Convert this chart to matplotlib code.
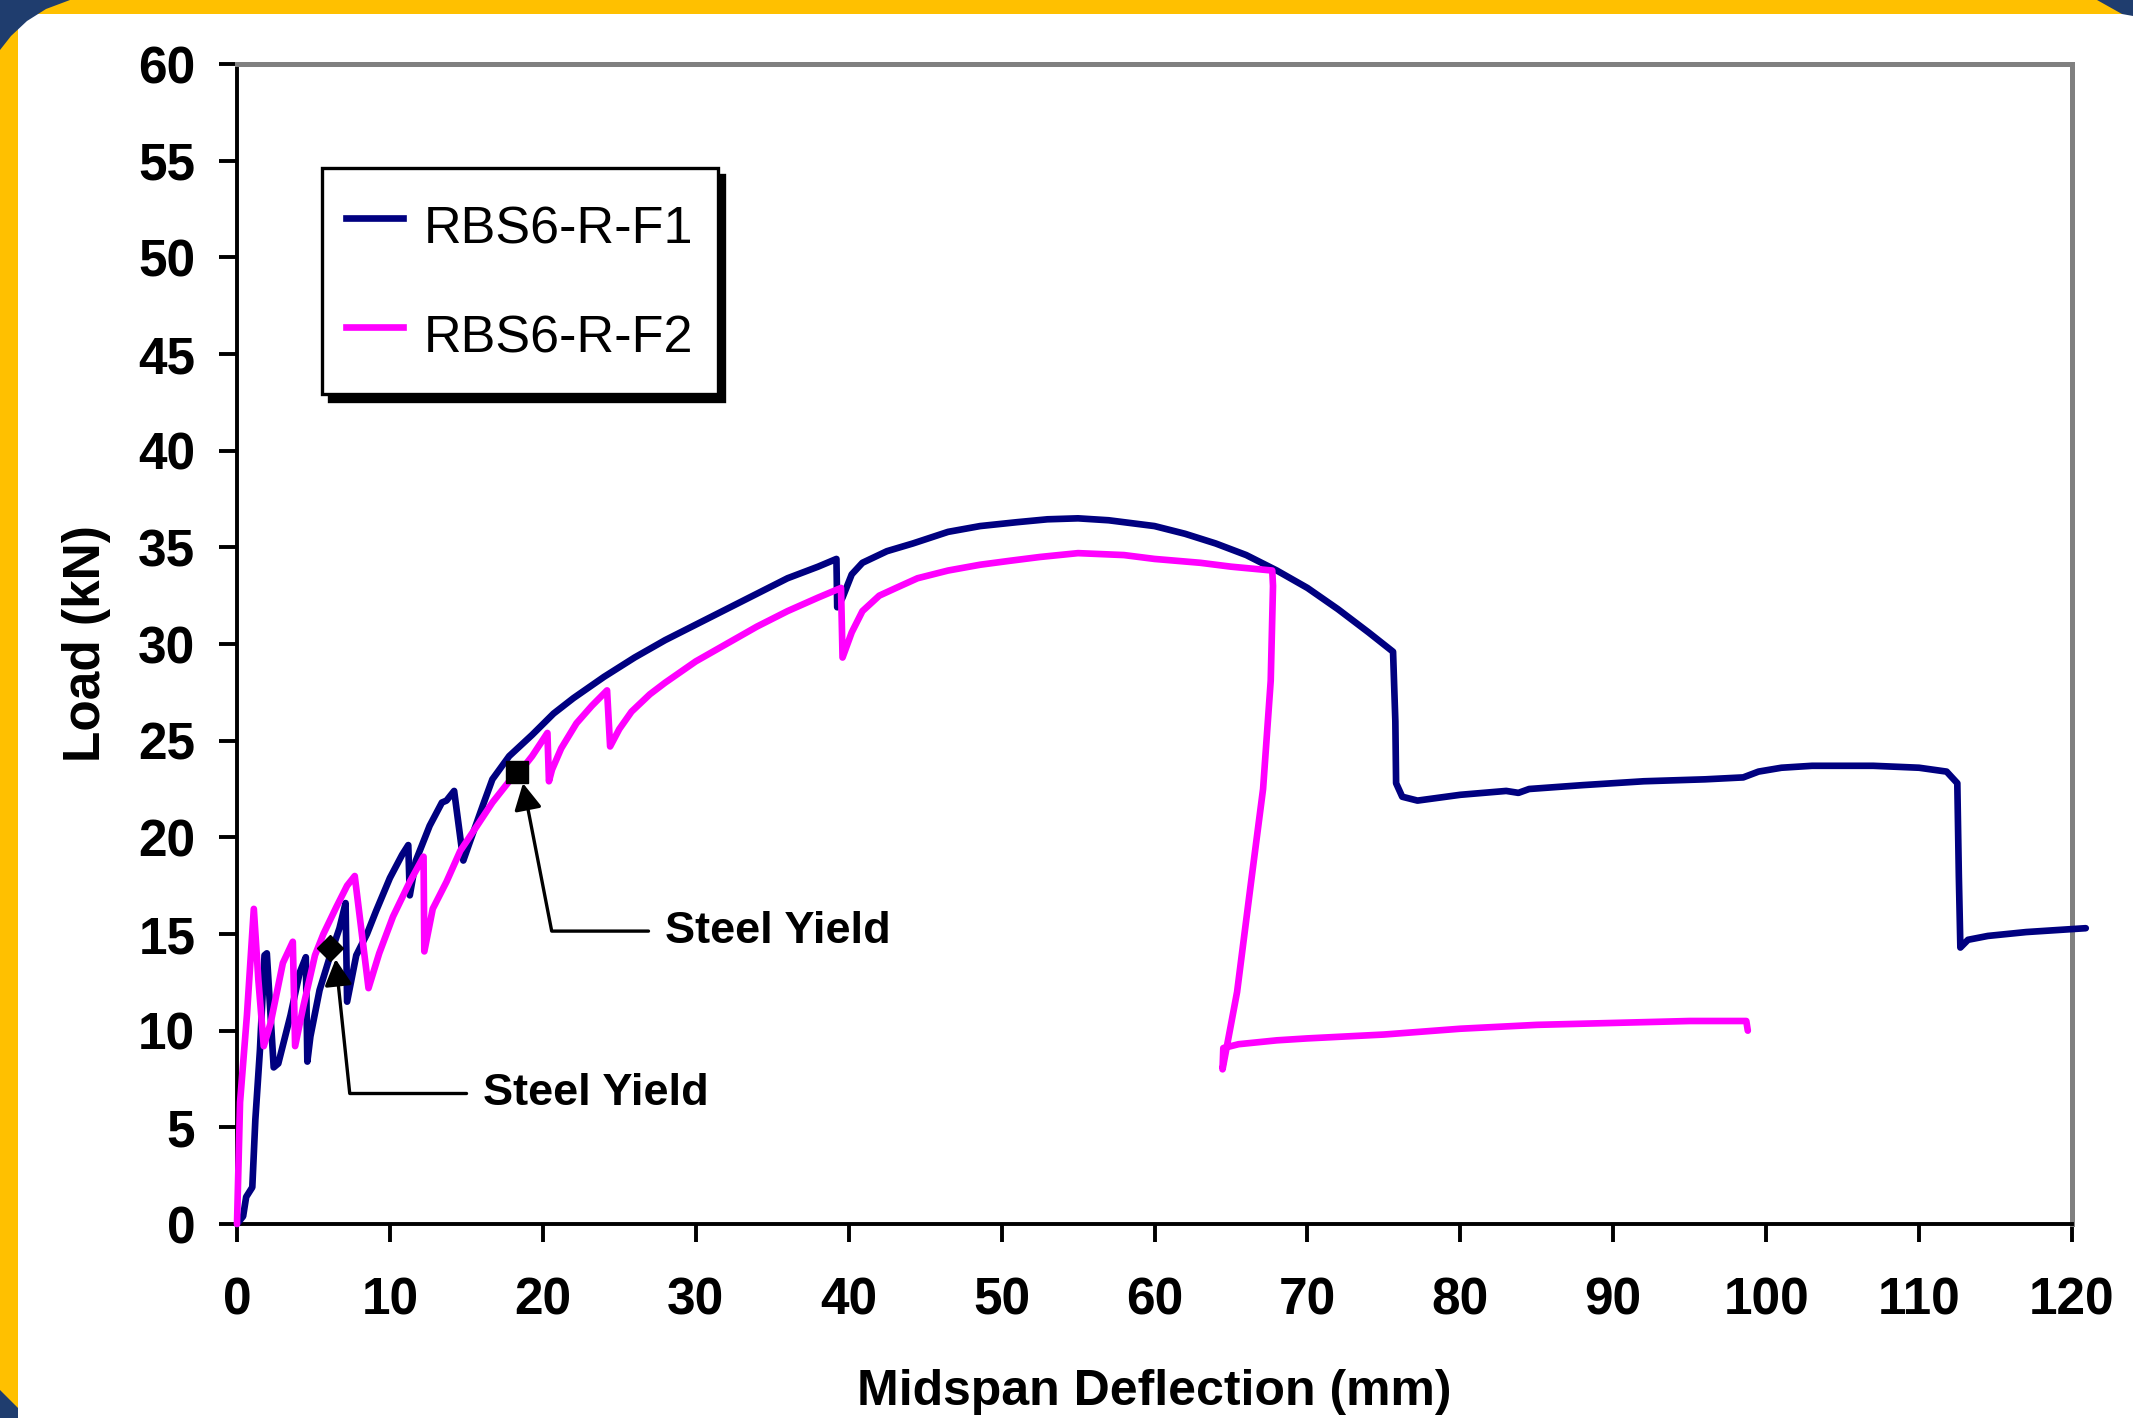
import matplotlib
matplotlib.use("Agg")
import matplotlib.pyplot as plt
from matplotlib.patches import Polygon, Rectangle
from matplotlib.lines import Line2D

plt.rcParams['font.family'] = ['Liberation Sans', 'DejaVu Sans']

# Load-deflection record, specimen RBS6-R-F1
f1_defl = [0.0, 0.4, 0.6, 1.0, 1.2, 1.5, 1.8, 1.95, 2.4, 2.7, 3.5, 4.1, 4.5, 4.6, 4.8,
           5.4, 6.1, 6.7, 7.1, 7.2, 7.8, 8.5, 9.1, 10.0, 10.8, 11.2, 11.3, 11.7, 12.6,
           13.4, 13.7, 14.2, 14.8, 15.2, 16.1, 16.7, 17.8, 19.3, 20.7, 22.0, 24.0, 26.0,
           28.0, 30.0, 32.0, 34.0, 36.0, 38.0, 39.2, 39.25, 39.6, 40.2, 40.9, 42.5, 44.2,
           46.5, 48.6, 51.0, 53.0, 55.0, 57.0, 60.0, 62.0, 64.0, 66.0, 68.0, 70.0, 72.0,
           74.0, 75.6, 75.75, 75.8, 76.2, 77.2, 80.0, 83.0, 83.8, 84.5, 88.0, 92.0, 96.0,
           98.5, 99.5, 101.0, 103.0, 107.0, 110.0, 111.8, 112.5, 112.6, 112.7, 113.2,
           114.5, 117.0, 120.9]
f1_load = [0.0, 0.4, 1.4, 1.9, 5.4, 9.0, 13.9, 14.0, 8.1, 8.3, 10.8, 13.0, 13.8, 8.4, 9.7,
           12.1, 13.9, 15.3, 16.6, 11.5, 13.9, 15.0, 16.2, 17.9, 19.1, 19.6, 17.0, 18.8, 20.6,
           21.8, 21.9, 22.4, 18.8, 19.7, 21.7, 23.0, 24.2, 25.3, 26.4, 27.2, 28.3, 29.3,
           30.2, 31.0, 31.8, 32.6, 33.4, 34.0, 34.4, 31.9, 32.4, 33.6, 34.2, 34.8, 35.2,
           35.8, 36.1, 36.3, 36.45, 36.5, 36.4, 36.1, 35.7, 35.2, 34.6, 33.8, 32.9, 31.8,
           30.6, 29.6, 26.0, 22.8, 22.1, 21.9, 22.2, 22.4, 22.3, 22.5, 22.7, 22.9, 23.0,
           23.1, 23.4, 23.6, 23.7, 23.7, 23.6, 23.4, 22.8, 18.0, 14.3, 14.7, 14.9, 15.1,
           15.3]

# Load-deflection record, specimen RBS6-R-F2
f2_defl = [0.0, 0.2, 0.65, 1.1, 1.4, 1.75, 2.2, 3.0, 3.65, 3.8, 4.35, 5.1, 5.65, 6.5,
           7.2, 7.7, 8.6, 9.3, 10.2, 11.3, 12.2, 12.25, 12.8, 13.7, 14.6, 15.7, 16.7,
           17.8, 18.5, 19.3, 20.3, 20.4, 20.6, 21.2, 22.2, 23.2, 24.2, 24.4, 25.0, 25.8,
           27.0, 28.0, 30.0, 32.0, 34.0, 36.0, 38.0, 39.5, 39.6, 40.2, 40.9, 42.0, 43.1,
           44.5, 46.5, 48.6, 50.5, 52.5, 55.0, 58.0, 60.0, 63.0, 65.0, 67.7, 67.75, 67.6,
           67.1, 66.3, 65.4, 64.45, 64.5, 65.5, 68.0, 70.0, 75.0, 80.0, 85.0, 90.0, 95.0,
           98.7, 98.8]
f2_load = [0.0, 6.3, 10.8, 16.3, 12.6, 9.2, 10.4, 13.5, 14.6, 9.2, 11.3, 13.9, 15.0, 16.4,
           17.5, 18.0, 12.2, 14.0, 15.9, 17.7, 19.0, 14.1, 16.3, 17.7, 19.3, 20.6, 21.8,
           22.9, 23.4, 24.2, 25.4, 22.9, 23.5, 24.6, 25.9, 26.8, 27.6, 24.7, 25.6, 26.5,
           27.4, 28.0, 29.1, 30.0, 30.9, 31.7, 32.4, 32.9, 29.3, 30.6, 31.7, 32.5, 32.9,
           33.4, 33.8, 34.1, 34.3, 34.5, 34.7, 34.6, 34.4, 34.2, 34.0, 33.8, 33.0, 28.1,
           22.5, 17.6, 12.0, 8.0, 9.1, 9.3, 9.5, 9.6, 9.8, 10.1, 10.3, 10.4, 10.5,
           10.5, 10.0]

# Steel yield points (diamond on F1, square on F2)
yield_defl = [6.05, 18.3]
yield_load = [14.3, 23.4]

series_labels = ['RBS6-R-F1', 'RBS6-R-F2']
series_colors = ['#000080', '#FF00FF']
x_ticks = list(range(0, 121, 10))
y_ticks = list(range(0, 61, 5))

W, H = 2133, 1418
fig = plt.figure(figsize=(W / 100, H / 100), dpi=100, facecolor='#FFC000')

# Slide frame: white panel over a yellow border with dark blue corners
fig.patches.append(Rectangle((18 / W, 0), 1 - 18 / W, 1 - 14 / H, transform=fig.transFigure,
                             facecolor='white', edgecolor='none', zorder=-5))
frame_blue = '#1F3D6E'
corners = [
    [(0, 0), (70, 0), (46, 9), (27, 21), (11, 36), (0, 50)],
    [(2097, 0), (2133, 0), (2133, 16), (2122, 14)],
    [(0, 1390), (18, 1408), (18, 1418), (0, 1418)],
]
for pts in corners:
    fig.patches.append(Polygon([(px / W, 1 - py / H) for px, py in pts], closed=True,
                               transform=fig.transFigure, facecolor=frame_blue,
                               edgecolor='none', zorder=-4))

ax = fig.add_axes([237 / W, 1 - 1224 / H, (2072 - 237) / W, (1224 - 64) / H])
ax.set_zorder(1)
ax.set_facecolor('white')

line_w = 4.8
ax.plot(f1_defl, f1_load, color=series_colors[0], lw=line_w, clip_on=False, zorder=3,
        solid_joinstyle='round', solid_capstyle='round')
ax.plot(f2_defl, f2_load, color=series_colors[1], lw=line_w, clip_on=False, zorder=3,
        solid_joinstyle='round', solid_capstyle='round')

ax.set_xlim(0, 120)
ax.set_ylim(0, 60)
ax.set_xticks(x_ticks)
ax.set_yticks(y_ticks)
ax.tick_params(axis='both', direction='out', length=13, width=2.8, labelsize=37,
               colors='black')
ax.tick_params(axis='x', pad=25)
ax.tick_params(axis='y', pad=17)
for lab in ax.get_xticklabels() + ax.get_yticklabels():
    lab.set_fontweight('bold')

for side in ('left', 'bottom'):
    ax.spines[side].set_color('black')
    ax.spines[side].set_linewidth(2.8)
for side in ('top', 'right'):
    ax.spines[side].set_color('#808080')
    ax.spines[side].set_linewidth(3.6)

ax.set_xlabel('Midspan Deflection (mm)', fontsize=36, fontweight='bold')
ax.xaxis.set_label_coords(0.5, (1224 - 1405) / 1160)
ax.xaxis.label.set_va('baseline')
ax.set_ylabel('Load (kN)', fontsize=37, fontweight='bold')
ax.yaxis.set_label_coords((100 - 237) / 1835, 0.5)
ax.yaxis.label.set_va('baseline')

# Steel-yield callouts
arrow_kw = dict(color='black', lw=2.4, shrinkA=10, shrinkB=0, relpos=(0, 0.5),
                mutation_scale=20)
ax.annotate('Steel Yield', xy=(6.45, 13.7), xytext=(16.1, 6.75), fontsize=32.5,
            fontweight='bold', ha='left', va='center',
            arrowprops=dict(arrowstyle='-|>,head_length=0.8,head_width=0.42',
                            connectionstyle='angle,angleA=180,angleB=96,rad=0', **arrow_kw),
            zorder=6)
ax.annotate('Steel Yield', xy=(18.7, 22.8), xytext=(28.0, 15.15), fontsize=32.5,
            fontweight='bold', ha='left', va='center',
            arrowprops=dict(arrowstyle='-|>,head_length=0.8,head_width=0.42',
                            connectionstyle='angle,angleA=180,angleB=101,rad=0', **arrow_kw),
            zorder=6)
ax.plot(yield_defl[0], yield_load[0], marker='D', ms=13, color='black', zorder=7, clip_on=False)
ax.plot(yield_defl[1], yield_load[1], marker='s', ms=16, color='black', zorder=7, clip_on=False)

handles = [Line2D([], [], color=c, lw=line_w) for c in series_colors]
leg = ax.legend(handles, series_labels, loc='upper left',
                bbox_to_anchor=((322 - 237) / 1835, (1224 - 168) / 1160),
                borderaxespad=0, fontsize=37.5, handlelength=1.08, handletextpad=0.4,
                handleheight=1.62, labelspacing=0.8, borderpad=0.47, fancybox=False,
                framealpha=1, edgecolor='black',
                shadow={'color': 'black', 'alpha': 1, 'ox': 5, 'oy': -5})
leg.get_frame().set_linewidth(2.4)
for t in leg.get_texts():
    t.set_fontweight('normal')

fig.savefig('out.png', dpi=100, facecolor=fig.get_facecolor())
